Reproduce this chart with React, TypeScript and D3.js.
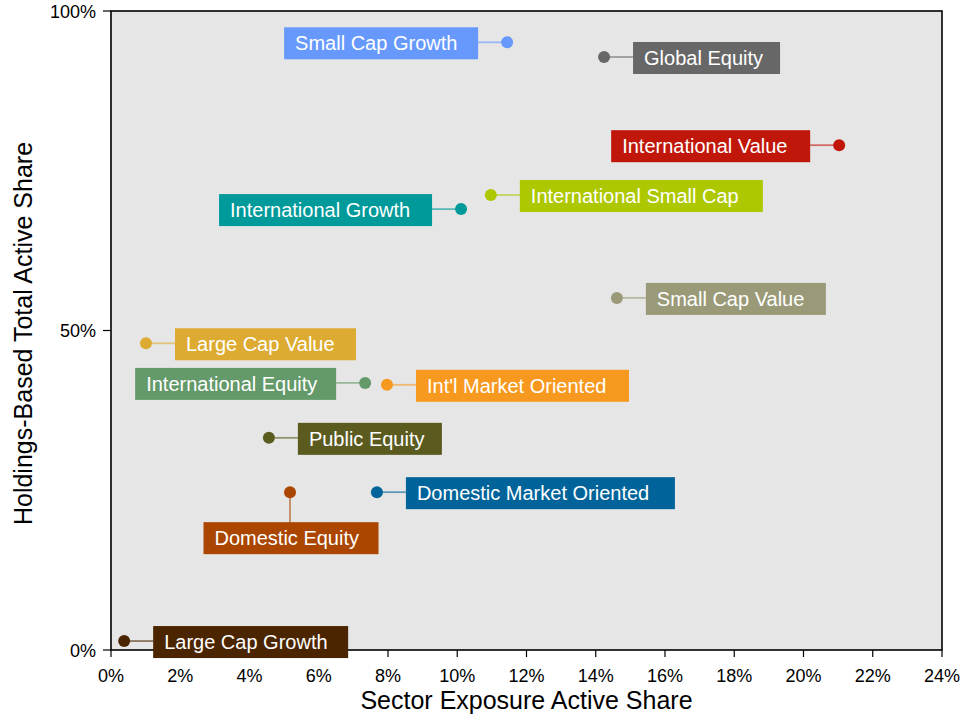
import React from "react";
import * as d3 from "d3";

// ---- data ----
const names = [
  "Small Cap Growth",
  "Global Equity",
  "International Value",
  "International Small Cap",
  "International Growth",
  "Small Cap Value",
  "Large Cap Value",
  "International Equity",
  "Int'l Market Oriented",
  "Public Equity",
  "Domestic Equity",
  "Domestic Market Oriented",
  "Large Cap Growth",
];
const sectorShare = [11.44, 14.24, 21.03, 10.97, 10.11, 14.61, 1.01, 7.34, 7.97, 4.56, 5.17, 7.68, 0.38];
const holdingsShare = [95.1, 92.8, 79.0, 71.2, 69.0, 55.1, 48.0, 41.8, 41.5, 33.2, 24.7, 24.7, 1.4];
const colors = [
  "#6699fb", "#676767", "#c1170a", "#adc800", "#009a9a", "#9a9a78", "#ddab31",
  "#64996a", "#f8991f", "#5b5b20", "#aa4600", "#00649a", "#4b2500",
];
const xTicks = [0, 2, 4, 6, 8, 10, 12, 14, 16, 18, 20, 22, 24];
const yTicks = [0, 50, 100];

// ---- label layout (side of the dot, box width) ----
const labelSide = ["left", "right", "left", "right", "left", "right", "right", "left", "right", "right", "below", "right", "right"];
const labelWidth = [194, 147, 199, 243, 213, 180, 181, 201, 213, 144, 175, 269, 195];

const W = 963;
const H = 714;
const M = { left: 111, right: 942, top: 11, bottom: 650 };
const FONT = "'Liberation Sans', Arial, sans-serif";

export default function App() {
  const x = d3.scaleLinear().domain([0, 24]).range([M.left, M.right]);
  const y = d3.scaleLinear().domain([0, 100]).range([M.bottom, M.top]);
  const GAP = 29;
  const BH = 32;

  return (
    <div style={{ position: "absolute", left: 0, top: 0 }}>
      <svg width={W} height={H} style={{ display: "block", fontFamily: FONT }}>
        <rect x={0} y={0} width={W} height={H} fill="#ffffff" />
        <rect
          x={M.left}
          y={M.top}
          width={M.right - M.left}
          height={M.bottom - M.top}
          fill="#e6e6e6"
          stroke="#000"
          strokeWidth={1.6}
        />
        {/* x ticks */}
        {xTicks.map((t) => (
          <g key={"x" + t}>
            <line x1={x(t)} x2={x(t)} y1={M.bottom} y2={M.bottom + 7} stroke="#000" strokeWidth={1.2} />
            <text x={x(t)} y={682} textAnchor="middle" fontSize={18} fill="#000">
              {t + "%"}
            </text>
          </g>
        ))}
        {/* y ticks */}
        {yTicks.map((t) => (
          <g key={"y" + t}>
            <line x1={M.left - 8} x2={M.left} y1={y(t)} y2={y(t)} stroke="#000" strokeWidth={1.2} />
            <text x={96} y={y(t) + 6.5} textAnchor="end" fontSize={18} fill="#000">
              {t + "%"}
            </text>
          </g>
        ))}
        <text x={(M.left + M.right) / 2} y={709} textAnchor="middle" fontSize={25} fill="#000">
          Sector Exposure Active Share
        </text>
        <text
          transform={`translate(32, ${(M.top + M.bottom) / 2 + 3}) rotate(-90)`}
          textAnchor="middle"
          fontSize={25}
          fill="#000"
        >
          Holdings-Based Total Active Share
        </text>

        {/* points and labels */}
        {names.map((n, i) => {
          const cx = x(sectorShare[i]);
          const cy = y(holdingsShare[i]);
          const w = labelWidth[i];
          const side = labelSide[i];
          let bx: number, by: number, lx1: number, ly1: number, lx2: number, ly2: number;
          if (side === "below") {
            bx = cx - w / 2 + 1;
            by = cy + GAP + 1;
            lx1 = cx; ly1 = cy; lx2 = cx; ly2 = by;
          } else if (side === "left") {
            bx = cx - GAP - w;
            by = cy + 1 - BH / 2;
            lx1 = cx; ly1 = cy; lx2 = bx + w; ly2 = cy;
          } else {
            bx = cx + GAP;
            by = cy + 1 - BH / 2;
            lx1 = cx; ly1 = cy; lx2 = bx; ly2 = cy;
          }
          const c = colors[i];
          return (
            <g key={n}>
              <line x1={lx1} y1={ly1} x2={lx2} y2={ly2} stroke={c} strokeOpacity={0.6} strokeWidth={1.8} />
              <circle cx={cx} cy={cy} r={6} fill={c} />
              <rect x={bx} y={by} width={w} height={BH} fill={c} />
              <text x={bx + 11} y={by + BH / 2 + 7} fontSize={20} fill="#ffffff">
                {n}
              </text>
            </g>
          );
        })}
      </svg>
    </div>
  );
}
